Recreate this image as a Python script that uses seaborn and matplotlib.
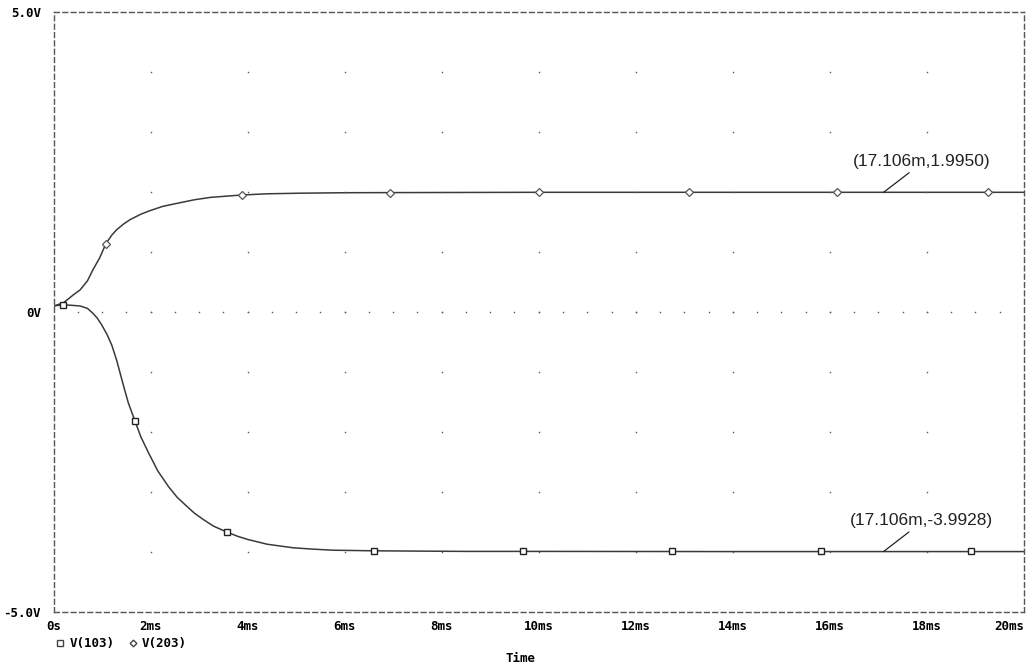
import numpy as np
import pandas as pd
import matplotlib
matplotlib.use("Agg")
import matplotlib.pyplot as plt
import seaborn as sns
from matplotlib.lines import Line2D

# ---- data (time in ms, voltage in V) ----
t_103 = [0.0, 0.19, 0.4, 0.55, 0.7, 0.81, 0.9, 0.99, 1.1, 1.2, 1.3, 1.37, 1.45, 1.54,
         1.68, 1.8, 1.96, 2.15, 2.37, 2.55, 2.75, 2.9, 3.09, 3.3, 3.58, 3.8, 4.0, 4.4,
         4.94, 5.3, 5.76, 6.59, 7.5, 8.5, 10.0, 14.0, 20.0]
v_103 = [0.1, 0.12, 0.11, 0.1, 0.06, -0.02, -0.1, -0.21, -0.37, -0.55, -0.8, -1.01,
         -1.25, -1.51, -1.82, -2.08, -2.35, -2.65, -2.91, -3.09, -3.24, -3.35, -3.46,
         -3.57, -3.67, -3.74, -3.79, -3.87, -3.93, -3.95, -3.97, -3.98, -3.985, -3.99,
         -3.99, -3.993, -3.993]
t_203 = [0.0, 0.2, 0.4, 0.55, 0.7, 0.81, 0.95, 1.08, 1.2, 1.3, 1.45, 1.58, 1.8, 1.99,
         2.25, 2.54, 2.9, 3.23, 3.55, 3.88, 4.4, 5.08, 6.0, 7.0, 10.0, 14.0, 20.0]
v_203 = [0.1, 0.15, 0.28, 0.37, 0.52, 0.7, 0.9, 1.14, 1.28, 1.37, 1.47, 1.54, 1.63,
         1.69, 1.76, 1.81, 1.87, 1.91, 1.93, 1.95, 1.97, 1.98, 1.988, 1.99, 1.995,
         1.995, 1.995]
mk_t_103 = [0.19, 1.68, 3.58, 6.6, 9.67, 12.75, 15.82, 18.9]
mk_v_103 = [0.12, -1.82, -3.67, -3.98, -3.99, -3.99, -3.99, -3.99]
mk_t_203 = [1.08, 3.88, 6.94, 10.0, 13.1, 16.15, 19.25]
mk_v_203 = [1.14, 1.95, 1.99, 1.995, 1.995, 1.995, 1.995]
x_ticks = [0, 2, 4, 6, 8, 10, 12, 14, 16, 18, 20]
x_tick_labels = ["0s", "2ms", "4ms", "6ms", "8ms", "10ms", "12ms", "14ms", "16ms", "18ms", "20ms"]
y_ticks = [-5, 0, 5]
y_tick_labels = ["-5.0V", "0V", "5.0V"]
cursor_t = 17.106
cursor_v = [1.9950, -3.9928]
cursor_labels = ["(17.106m,1.9950)", "(17.106m,-3.9928)"]

df = pd.concat([
    pd.DataFrame({"t": t_103, "v": v_103, "trace": "V(103)"}),
    pd.DataFrame({"t": t_203, "v": v_203, "trace": "V(203)"}),
])

sns.set_style("white")
plt.rcParams["font.family"] = ["DejaVu Sans"]

W, H = 1034, 672
fig = plt.figure(figsize=(W / 100, H / 100), dpi=100)
L, R, T, B = 53.5, 1024, 12, 612
ax = fig.add_axes([L / W, (H - B) / H, (R - L) / W, (B - T) / H])

line_col = "#3a3a3a"
sns.lineplot(data=df, x="t", y="v", hue="trace", palette=[line_col, line_col],
             ax=ax, legend=False, linewidth=1.1, sort=False, estimator=None)

ax.plot(mk_t_103, mk_v_103, linestyle="none", marker="s", markersize=4.2,
        markerfacecolor="white", markeredgecolor="#222222", markeredgewidth=1.0, zorder=5)
ax.plot(mk_t_203, mk_v_203, linestyle="none", marker="D", markersize=3.6,
        markerfacecolor="white", markeredgecolor="#555555", markeredgewidth=0.9, zorder=5)

# grid dots
gx, gy = np.meshgrid(np.arange(2, 20, 2), np.arange(-4, 5, 1))
ax.plot(gx.ravel(), gy.ravel(), linestyle="none", marker="s", markersize=1.0,
        color="#555555", markeredgewidth=0)
zx = np.arange(0.5, 20, 0.5)
ax.plot(zx, np.zeros_like(zx), linestyle="none", marker="s", markersize=1.0,
        color="#555555", markeredgewidth=0)

ax.set_xlim(0, 20)
ax.set_ylim(-5, 5)
ax.set_xlabel("")
ax.set_ylabel("")

for s in ax.spines.values():
    s.set_linestyle((0, (3.5, 2.5)))
    s.set_color("#555555")
    s.set_linewidth(1.0)

mono = dict(family="DejaVu Sans Mono", fontweight="bold", fontsize=9, color="black")
ax.set_xticks(x_ticks)
ax.set_xticklabels(x_tick_labels, **mono)
ax.get_xticklabels()[-1].set_horizontalalignment("right")
ax.set_yticks(y_ticks)
ax.set_yticklabels(y_tick_labels, **mono)
ax.tick_params(axis="x", direction="in", length=4, width=1, color="#555555", pad=6)
ax.tick_params(axis="y", direction="out", length=5, width=1, color="#333333", pad=4)

# cursor annotations
for v, lab in zip(cursor_v, cursor_labels):
    ax.annotate(lab, xy=(cursor_t, v), xytext=(cursor_t + 0.78, v + 0.52),
                ha="center", va="center", fontsize=12.5, family="Liberation Sans",
                color="#222222",
                arrowprops=dict(arrowstyle="-", color="#222222", lw=0.9,
                                shrinkA=1, shrinkB=0, relpos=(0.45, 0)))

# axis title
fig.text(520 / W, 1 - 659 / H, "Time", ha="center", va="center", **mono)

# legend
leg_y = 1 - 643 / H
fig.add_artist(Line2D([60 / W], [leg_y], marker="s", markersize=4, linestyle="none",
                      markerfacecolor="white", markeredgecolor="#444444",
                      transform=fig.transFigure))
fig.text(70 / W, leg_y, "V(103)", ha="left", va="center", **mono)
fig.add_artist(Line2D([133 / W], [leg_y], marker="D", markersize=3.4, linestyle="none",
                      markerfacecolor="white", markeredgecolor="#444444",
                      transform=fig.transFigure))
fig.text(142 / W, leg_y, "V(203)", ha="left", va="center", **mono)

fig.savefig("out.png", dpi=100, facecolor="white")
